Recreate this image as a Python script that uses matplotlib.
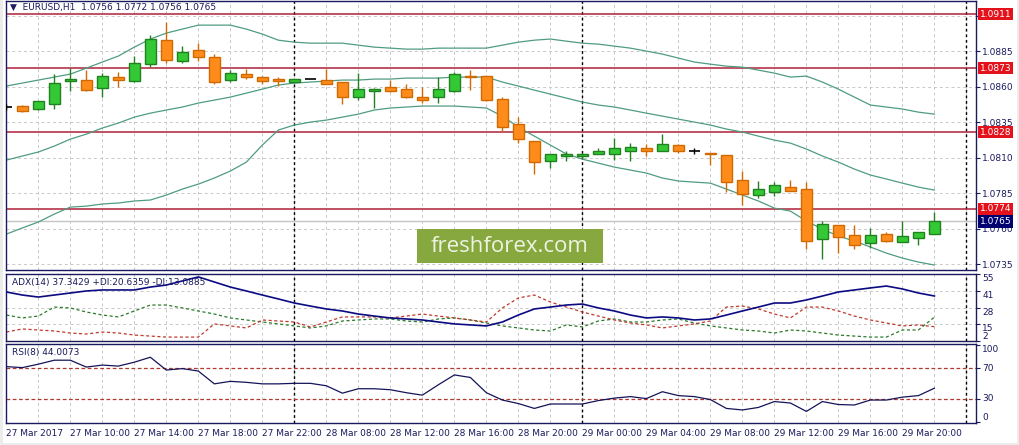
import numpy as np
import matplotlib
matplotlib.use("Agg")
import matplotlib.pyplot as plt
import matplotlib.transforms as mtransforms
from matplotlib.patches import Rectangle

# bar index -1 is the half-visible bar at the left edge
bar_index = np.arange(-1, 58)

opens = [1.08456, 1.08461, 1.08444, 1.08479, 1.08637, 1.08644, 1.08592, 1.08665, 1.08641, 1.08756,
         1.08925, 1.08782, 1.08855, 1.08806, 1.08644, 1.08686, 1.08665, 1.08653, 1.08634, 1.08651,
         1.08644, 1.08634, 1.08524, 1.08570, 1.08594, 1.08580, 1.08524, 1.08524, 1.08570, 1.08676,
         1.08672, 1.08510, 1.08336, 1.08214, 1.08077, 1.08113, 1.08111, 1.08127, 1.08127, 1.08148,
         1.08165, 1.08144, 1.08186, 1.08144, 1.08134, 1.08115, 1.07939, 1.07834, 1.07859, 1.07890,
         1.07876, 1.07524, 1.07623, 1.07552, 1.07496, 1.07559, 1.07503, 1.07531, 1.0756]
highs = [1.08475, 1.08472, 1.08500, 1.08688, 1.08728, 1.08716, 1.08693, 1.08700, 1.08815, 1.08961,
         1.09052, 1.08885, 1.08908, 1.08827, 1.08714, 1.08721, 1.08674, 1.08665, 1.08653, 1.08651,
         1.08721, 1.08634, 1.08693, 1.08592, 1.08644, 1.08618, 1.08596, 1.08665, 1.08700, 1.08714,
         1.08674, 1.08528, 1.08383, 1.08214, 1.08123, 1.08148, 1.08125, 1.08165, 1.08235, 1.08200,
         1.08193, 1.08265, 1.08193, 1.08165, 1.08134, 1.08115, 1.08005, 1.07935, 1.07930, 1.07942,
         1.07930, 1.07655, 1.07623, 1.07623, 1.07601, 1.07573, 1.07651, 1.07573, 1.0772]
lows = [1.08435, 1.08423, 1.08435, 1.08444, 1.08570, 1.08568, 1.08528, 1.08599, 1.08634, 1.08739,
        1.08768, 1.08763, 1.08782, 1.08618, 1.08634, 1.08651, 1.08615, 1.08604, 1.08630, 1.08651,
        1.08620, 1.08479, 1.08503, 1.08451, 1.08563, 1.08521, 1.08482, 1.08482, 1.08563, 1.08573,
        1.08498, 1.08289, 1.08200, 1.07982, 1.08028, 1.08077, 1.08087, 1.08123, 1.08080, 1.08077,
        1.08113, 1.08144, 1.08130, 1.08125, 1.08045, 1.07859, 1.07765, 1.07817, 1.07831, 1.07862,
        1.07458, 1.07387, 1.07427, 1.07454, 1.07461, 1.07503, 1.07503, 1.07482, 1.0756]
closes = [1.08456, 1.08430, 1.08496, 1.08623, 1.08653, 1.08577, 1.08672, 1.08648, 1.08763, 1.08932,
          1.08787, 1.08841, 1.08810, 1.08634, 1.08693, 1.08669, 1.08641, 1.08639, 1.08651, 1.08651,
          1.08620, 1.08528, 1.08580, 1.08582, 1.08570, 1.08528, 1.08507, 1.08580, 1.08686, 1.08667,
          1.08503, 1.08317, 1.08232, 1.08070, 1.08123, 1.08125, 1.08123, 1.08146, 1.08165, 1.08172,
          1.08148, 1.08193, 1.08148, 1.08144, 1.08123, 1.07930, 1.07841, 1.07876, 1.07904, 1.07862,
          1.07510, 1.07630, 1.07542, 1.07482, 1.07552, 1.07510, 1.07545, 1.07573, 1.0765]

bb_upper = [1.08604, 1.08625, 1.08646, 1.08667, 1.08688, 1.08730, 1.08773, 1.08815, 1.08878, 1.08935,
            1.08977, 1.09005, 1.09033, 1.09033, 1.09033, 1.09005, 1.08970, 1.08927, 1.08913, 1.08906,
            1.08906, 1.08906, 1.08892, 1.08878, 1.08871, 1.08864, 1.08864, 1.08871, 1.08871, 1.08871,
            1.08871, 1.08892, 1.08913, 1.08927, 1.08935, 1.08920, 1.08906, 1.08899, 1.08885, 1.08871,
            1.08850, 1.08829, 1.08801, 1.08773, 1.08758, 1.08744, 1.08737, 1.08716, 1.08695, 1.08667,
            1.08674, 1.08632, 1.08582, 1.08526, 1.08470, 1.08456, 1.08442, 1.08420, 1.08406]
bb_middle = [1.08082, 1.08111, 1.08139, 1.08181, 1.08230, 1.08265, 1.08308, 1.08343, 1.08385, 1.08413,
             1.08435, 1.08456, 1.08484, 1.08505, 1.08526, 1.08554, 1.08582, 1.08611, 1.08625, 1.08632,
             1.08639, 1.08646, 1.08646, 1.08653, 1.08653, 1.08660, 1.08660, 1.08660, 1.08667, 1.08667,
             1.08667, 1.08632, 1.08604, 1.08575, 1.08547, 1.08519, 1.08491, 1.08470, 1.08456, 1.08435,
             1.08413, 1.08392, 1.08371, 1.08350, 1.08329, 1.08301, 1.08280, 1.08251, 1.08223, 1.08202,
             1.08160, 1.08111, 1.08068, 1.08019, 1.07977, 1.07949, 1.07920, 1.07892, 1.07871]
bb_lower = [1.07561, 1.07604, 1.07646, 1.07702, 1.07751, 1.07758, 1.07773, 1.07780, 1.07794, 1.07801,
            1.07836, 1.07878, 1.07913, 1.07956, 1.08005, 1.08068, 1.08188, 1.08294, 1.08329, 1.08350,
            1.08364, 1.08385, 1.08406, 1.08435, 1.08449, 1.08456, 1.08463, 1.08463, 1.08463, 1.08456,
            1.08449, 1.08392, 1.08315, 1.08251, 1.08188, 1.08125, 1.08089, 1.08061, 1.08033, 1.08012,
            1.07991, 1.07956, 1.07935, 1.07927, 1.07920, 1.07878, 1.07836, 1.07794, 1.07744, 1.07723,
            1.07653, 1.07596, 1.07547, 1.07512, 1.07470, 1.07427, 1.07392, 1.07364, 1.07343]

adx = [40.5, 38.1, 36.5, 38.1, 39.7, 41.3, 42.1, 42.1, 42.1, 44.4, 46.0, 49.2, 52.4, 48.4, 44.4,
       41.3, 38.1, 35.0, 31.8, 29.4, 27.1, 25.5, 23.1, 21.5, 20.0, 19.2, 18.4, 16.8, 15.3, 14.5,
       13.7, 16.8, 22.3, 27.1, 28.6, 30.2, 31.0, 27.9, 25.5, 22.3, 20.0, 20.8, 20.0, 18.4, 19.2,
       22.3, 25.5, 28.6, 31.8, 31.8, 34.2, 37.3, 40.5, 42.1, 43.7, 45.2, 42.9, 39.7, 37.34]
plus_di = [22.3, 20.0, 21.5, 28.6, 27.9, 24.7, 22.3, 20.8, 25.5, 30.2, 30.2, 27.9, 25.5, 23.1, 20.0,
           18.4, 16.8, 15.3, 13.7, 12.1, 13.7, 17.6, 18.4, 19.2, 19.2, 17.6, 16.8, 19.2, 20.0, 18.4,
           16.0, 13.7, 12.1, 10.5, 9.7, 14.5, 12.9, 17.6, 19.2, 16.8, 16.8, 18.4, 19.2, 16.0, 13.7,
           12.1, 10.5, 9.7, 8.1, 10.5, 9.7, 8.1, 6.5, 5.7, 4.9, 4.9, 10.5, 10.5, 20.64]
minus_di = [8.9, 11.3, 10.5, 9.7, 8.1, 7.3, 8.9, 8.1, 6.5, 5.7, 4.9, 4.9, 4.9, 15.3, 13.7,
            12.1, 18.4, 17.6, 16.8, 12.9, 16.8, 20.8, 20.8, 20.8, 20.0, 21.5, 23.1, 21.5, 20.0, 18.4,
            16.8, 27.9, 35.8, 38.1, 32.6, 28.6, 24.7, 21.5, 18.4, 16.0, 14.5, 12.1, 13.7, 15.3, 17.6,
            28.6, 29.4, 27.1, 23.1, 20.0, 28.6, 28.6, 25.5, 21.5, 18.4, 16.0, 13.7, 14.5, 13.09]
rsi = [72.3, 71.0, 75.5, 80.7, 80.7, 71.7, 74.3, 73.0, 78.1, 84.6, 67.8, 69.7, 66.5, 49.7, 53.0,
       51.7, 49.7, 49.7, 50.4, 50.4, 47.2, 37.5, 43.3, 43.3, 42.0, 38.1, 34.9, 48.5, 61.4, 58.1,
       38.1, 28.5, 23.9, 17.5, 23.3, 23.3, 23.3, 27.8, 31.0, 33.0, 30.4, 39.4, 34.3, 33.0, 29.1,
       17.5, 15.5, 18.8, 26.5, 24.6, 13.6, 26.5, 22.6, 22.0, 28.5, 28.5, 32.3, 34.3, 44.0]

hlines_red = [1.0911, 1.0873, 1.0828, 1.0774]
last_price = 1.0765
price_ticks = [1.0735, 1.0760, 1.0785, 1.0810, 1.0835, 1.0860, 1.0885, 1.0910]
adx_ticks = [55, 41, 28, 15, 2]
rsi_ticks = [100, 70, 30, 0]
rsi_levels = [70, 30]

label_bars = [-1, 3, 7, 11, 15, 19, 23, 27, 31, 35, 39, 43, 47, 51, 55]
time_labels = ["27 Mar 2017", "27 Mar 10:00", "27 Mar 14:00", "27 Mar 18:00", "27 Mar 22:00",
               "28 Mar 08:00", "28 Mar 12:00", "28 Mar 16:00", "28 Mar 20:00", "29 Mar 00:00",
               "29 Mar 04:00", "29 Mar 08:00", "29 Mar 12:00", "29 Mar 16:00", "29 Mar 20:00"]
day_separators = [17, 35, 59]

W, H = 1019, 445
NAVY = "#1a1a5e"
GRID = "#c8c8c8"
FS = 6.5


def fig_rect(x0, y0, x1, y1):
    # pixel box (from top-left) -> figure fraction rect
    return [x0 / W, 1 - y1 / H, (x1 - x0) / W, (y1 - y0) / H]


fig = plt.figure(figsize=(W / 100, H / 100), dpi=100)
fig.patch.set_facecolor("white")

ax = fig.add_axes(fig_rect(6, 1, 976, 270))
ax_adx = fig.add_axes(fig_rect(6, 273.5, 976, 341), sharex=ax)
ax_rsi = fig.add_axes(fig_rect(6, 343.5, 976, 423), sharex=ax)

x = bar_index
o, h, l, c = (np.array(v) for v in (opens, highs, lows, closes))

for a in (ax, ax_adx, ax_rsi):
    a.set_facecolor("white")
    for s in a.spines.values():
        s.set_color(NAVY)
        s.set_linewidth(1.0)
    a.yaxis.tick_right()
    a.tick_params(axis="y", colors=NAVY, labelcolor=NAVY, labelsize=FS, length=3, width=0.8, pad=1.5)
    for gx in range(1, 60, 2):
        a.axvline(gx, color=GRID, lw=0.7, ls=(0, (3, 3)), zorder=0)
    for sx in day_separators:
        a.axvline(sx, color="black", lw=1.0, ls=(0, (2, 2)), zorder=1)
    a.tick_params(axis="x", length=0, labelbottom=False)

ax.set_xlim(-1.02, 59.6)

# main price panel; the 1.0910 scale label sits under the 1.0911 line label
ax.set_ylim(1.07308, 1.09203)
ax.set_yticks(price_ticks)
ax.set_yticklabels([f"{p:.4f}" if p < 1.09 else "" for p in price_ticks])
for p in price_ticks:
    ax.axhline(p, color=GRID, lw=0.7, ls=(0, (3, 3)), zorder=0)

ax.axhline(last_price, color="#c4c4c4", lw=1.0, zorder=1)
for lv in hlines_red:
    ax.axhline(lv, color="#b0203a", lw=1.1, zorder=2)

band_color = "#4f9c80"
ax.plot(x, bb_upper, color=band_color, lw=0.9, zorder=2)
ax.plot(x, bb_middle, color=band_color, lw=0.9, zorder=2)
ax.plot(x, bb_lower, color=band_color, lw=0.9, zorder=2)

body_w = 0.66
bull = c > o
bear = c < o
doji = c == o
for mask, fill, edge in ((bull, "#34c934", "#1f821f"), (bear, "#ff8c1a", "#d06a00")):
    ax.vlines(x[mask], l[mask], h[mask], color=edge, lw=1.0, zorder=3)
    ax.bar(x[mask], np.abs(c - o)[mask], bottom=np.minimum(o, c)[mask], width=body_w,
           color=fill, edgecolor=edge, linewidth=1.0, zorder=4)
ax.vlines(x[doji], l[doji], h[doji], color="black", lw=1.0, zorder=3)
ax.hlines(o[doji], x[doji] - body_w / 2, x[doji] + body_w / 2, color="black", lw=1.2, zorder=4)

trans = mtransforms.blended_transform_factory(ax.transAxes, ax.transData)
for lv in hlines_red:
    ax.text(1.004, lv, f"{lv:.4f}", transform=trans, color="white", fontsize=FS, va="center",
            ha="left", bbox=dict(boxstyle="square,pad=0.18", fc="#e4131b", ec="none"), zorder=6,
            clip_on=False)
ax.text(1.004, last_price, f"{last_price:.4f}", transform=trans, color="white", fontsize=FS,
        va="center", ha="left", bbox=dict(boxstyle="square,pad=0.18", fc="#000070", ec="none"),
        zorder=6, clip_on=False)

# ADX panel
ax_adx.set_ylim(1.8, 55.1)
ax_adx.set_yticks(adx_ticks)
ax_adx.set_yticklabels([str(t) for t in adx_ticks])
for lab, t in zip(ax_adx.get_yticklabels(), adx_ticks):
    lab.set_va("bottom" if t == adx_ticks[-1] else "top")
for t in adx_ticks[1:-1]:
    ax_adx.axhline(t, color=GRID, lw=0.7, ls=(0, (3, 3)), zorder=0)
ax_adx.plot(x, plus_di, color="#2a7a2a", lw=0.9, ls=(0, (2.5, 2)), zorder=2)
ax_adx.plot(x, minus_di, color="#c0392b", lw=0.9, ls=(0, (2.5, 2)), zorder=2)
ax_adx.plot(x, adx, color="#0a0a82", lw=1.2, zorder=3)

# RSI panel
ax_rsi.set_ylim(-1.6, 102.6)
ax_rsi.set_yticks(rsi_ticks)
ax_rsi.set_yticklabels([str(t) for t in rsi_ticks])
for lab, t in zip(ax_rsi.get_yticklabels(), rsi_ticks):
    if t == 100:
        lab.set_va("top")
    elif t == 0:
        lab.set_va("bottom")
    else:
        lab.set_va("center")
for lv in rsi_levels:
    ax_rsi.axhline(lv, color="#b03a2e", lw=0.9, ls=(0, (3, 2)), zorder=1)
ax_rsi.plot(x, rsi, color="#14145a", lw=0.9, zorder=3)

ax_rsi.tick_params(axis="x", labelbottom=True, length=0, pad=4, labelsize=FS, labelcolor=NAVY)
ax_rsi.set_xticks(label_bars)
ax_rsi.set_xticklabels(time_labels, ha="left")

# header texts
fig.text(10 / W, 1 - 7.5 / H, "\u25bc  EURUSD,H1  1.0756 1.0772 1.0756 1.0765", fontsize=FS,
         color=NAVY, va="center", ha="left")
fig.text(11.5 / W, 1 - 282.3 / H, "ADX(14) 37.3429 +DI:20.6359 -DI:13.0885", fontsize=FS,
         color=NAVY, va="center", ha="left")
fig.text(11.5 / W, 1 - 352.7 / H, "RSI(8) 44.0073", fontsize=FS, color=NAVY, va="center", ha="left")

# watermark
fig.patches.append(Rectangle((417 / W, 1 - 263 / H), 186 / W, 34 / H, transform=fig.transFigure,
                             facecolor="#87a83f", edgecolor="none", zorder=10))
fig.text(510 / W, 1 - 246.5 / H, "freshforex.com", fontsize=16, family="Open Sans",
         color="#eef3e2", ha="center", va="center", zorder=11)

# window frame
fig.patches.append(Rectangle((0, 0), 3 / W, 1, transform=fig.transFigure,
                             facecolor="#ececec", edgecolor="none", zorder=0))
fig.patches.append(Rectangle((0, 0), 1, 2 / H, transform=fig.transFigure,
                             facecolor="#ececec", edgecolor="none", zorder=0))
fig.patches.append(Rectangle((1017 / W, 0), 2 / W, 1, transform=fig.transFigure,
                             facecolor="#ececec", edgecolor="none", zorder=0))

fig.savefig("out.png", dpi=100, facecolor=fig.get_facecolor())
